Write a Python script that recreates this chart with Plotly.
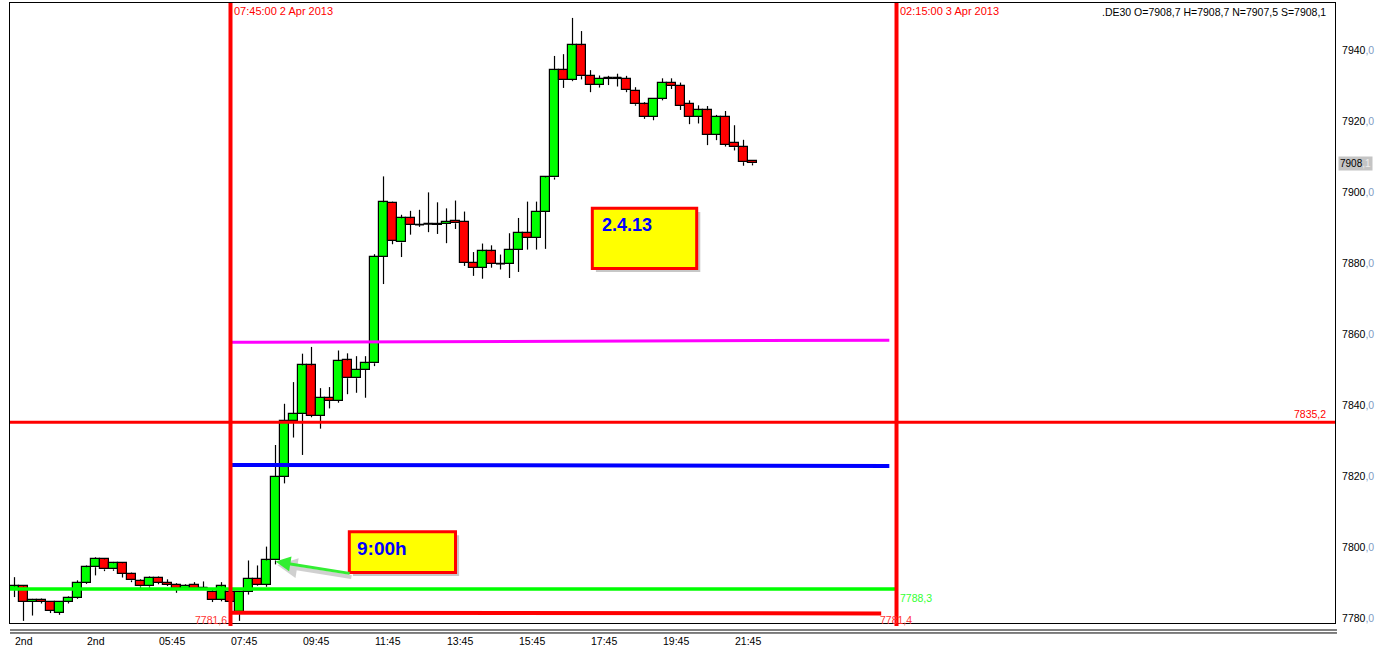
import plotly.graph_objects as go

# ---------------- data ----------------
opens = [7788.0, 7789.0, 7784.6, 7785.2, 7784.6, 7781.6, 7784.6, 7785.8, 7790.0, 7794.4,
         7796.6, 7793.8, 7795.5, 7792.5, 7790.5, 7789.0, 7791.4, 7790.0, 7789.5, 7788.4,
         7789.5, 7788.5, 7787.4, 7785.2, 7787.4, 7781.8, 7787.4, 7791.1, 7789.5, 7796.3,
         7819.9, 7835.6, 7837.5, 7851.2, 7837.0, 7842.1, 7841.3, 7852.6, 7847.6, 7849.9,
         7851.8, 7881.8, 7897.0, 7885.8, 7892.6, 7890.8, 7891.0, 7890.8, 7891.1, 7891.9,
         7891.6, 7880.1, 7878.7, 7883.3, 7879.8, 7879.8, 7883.8, 7888.4, 7887.1, 7894.4,
         7904.1, 7934.3, 7931.5, 7941.3, 7932.6, 7930.1, 7932.0, 7932.0, 7931.8, 7928.4,
         7924.7, 7921.2, 7926.3, 7930.8, 7929.9, 7924.9, 7921.1, 7923.0, 7916.1, 7921.1,
         7913.8, 7912.6, 7908.7]
highs = [7791.6, 7789.3, 7785.5, 7785.6, 7784.9, 7784.8, 7786.2, 7790.7, 7794.9, 7797.2,
         7797.0, 7795.9, 7795.8, 7792.9, 7791.0, 7791.8, 7791.8, 7791.0, 7789.9, 7789.6,
         7790.2, 7790.4, 7788.2, 7790.2, 7788.0, 7787.6, 7796.3, 7794.9, 7800.2, 7828.8,
         7840.4, 7846.5, 7854.5, 7856.4, 7844.8, 7845.1, 7855.4, 7854.6, 7853.8, 7853.8,
         7882.5, 7904.4, 7897.3, 7893.6, 7894.7, 7895.0, 7899.9, 7897.1, 7895.4, 7897.6,
         7894.5, 7883.1, 7885.5, 7885.0, 7882.4, 7888.4, 7892.7, 7897.3, 7897.3, 7904.5,
         7938.3, 7938.8, 7949.0, 7945.3, 7934.3, 7932.8, 7932.7, 7933.3, 7932.7, 7929.5,
         7925.3, 7926.3, 7932.0, 7932.0, 7930.8, 7925.8, 7924.4, 7924.2, 7921.7, 7922.8,
         7918.8, 7914.7, 7908.7]
lows = [7786.0, 7779.3, 7780.8, 7784.2, 7781.5, 7781.0, 7784.2, 7785.5, 7789.7, 7792.1,
        7793.3, 7793.4, 7791.5, 7790.2, 7788.6, 7788.6, 7789.6, 7789.1, 7787.2, 7788.0,
        7788.0, 7788.0, 7784.6, 7784.8, 7783.8, 7779.3, 7786.7, 7789.2, 7788.9, 7795.2,
        7818.0, 7830.9, 7826.0, 7836.6, 7833.4, 7839.1, 7840.7, 7843.1, 7843.5, 7842.1,
        7851.0, 7874.1, 7885.3, 7881.7, 7888.0, 7890.2, 7888.7, 7888.2, 7885.6, 7889.6,
        7879.2, 7876.4, 7875.6, 7878.7, 7878.2, 7875.8, 7877.5, 7883.8, 7883.8, 7884.0,
        7903.5, 7929.3, 7931.2, 7931.7, 7928.1, 7929.4, 7930.1, 7929.7, 7928.1, 7924.3,
        7920.6, 7920.2, 7925.8, 7929.0, 7923.1, 7919.1, 7919.3, 7913.2, 7914.6, 7912.8,
        7911.7, 7907.4, 7907.5]
closes = [7789.0, 7784.6, 7785.2, 7784.6, 7782.1, 7784.6, 7785.8, 7790.0, 7794.4, 7796.8,
          7793.8, 7795.5, 7792.5, 7790.7, 7789.0, 7791.4, 7790.0, 7789.5, 7788.4, 7789.2,
          7788.4, 7788.5, 7785.2, 7789.0, 7784.6, 7787.4, 7791.1, 7789.5, 7796.3, 7819.9,
          7835.6, 7837.5, 7851.2, 7837.0, 7842.1, 7841.3, 7852.4, 7847.6, 7849.9, 7851.8,
          7881.8, 7897.1, 7886.3, 7892.6, 7890.8, 7890.8, 7891.0, 7891.1, 7891.6, 7891.2,
          7880.1, 7878.7, 7883.3, 7879.8, 7879.8, 7883.8, 7888.6, 7887.1, 7894.4, 7904.1,
          7934.3, 7931.5, 7941.3, 7932.6, 7930.1, 7931.8, 7932.0, 7932.0, 7928.7, 7924.7,
          7921.1, 7926.3, 7930.8, 7929.9, 7924.3, 7921.1, 7923.0, 7916.1, 7921.1, 7913.3,
          7912.6, 7908.4, 7908.1]
bar_index = list(range(len(opens)))

x_tick_index = [0, 8, 16, 24, 32, 40, 48, 56, 64, 72, 80]
x_tick_labels = ["2nd", "2nd", "05:45", "07:45", "09:45", "11:45", "13:45",
                 "15:45", "17:45", "19:45", "21:45"]
y_tick_values = [7780, 7800, 7820, 7840, 7860, 7880, 7900, 7920, 7940]

start_bar = 24          # 07:45:00 2 Apr 2013
end_bar = 98            # 02:15:00 3 Apr 2013
level_red = 7835.2
level_green = 7788.3
level_low_left, level_low_right = 7781.6, 7781.4
level_magenta = (7857.7, 7858.3)
level_blue = (7823.2, 7822.9)
last_price = 7908.1

FONT = "Arial, Liberation Sans, sans-serif"

# derived candle geometry (from the OHLC lists)
body_lo = [min(o, c) for o, c in zip(opens, closes)]
body_hi = [max(o, c) for o, c in zip(opens, closes)]
body_h = [hi - lo for lo, hi in zip(body_lo, body_hi)]
body_col = ["#00ff00" if c > o else "#ff0000" for o, c in zip(opens, closes)]

wx, wy = [], []
for i in bar_index:
    wx += [i, i, None, i, i, None]
    wy += [body_hi[i], highs[i], None, lows[i], body_lo[i], None]

dx, dy = [], []
for i in bar_index:
    if body_h[i] == 0:
        dx += [i - 0.5, i + 0.5, None]
        dy += [opens[i], opens[i], None]

fig = go.Figure()
fig.add_trace(go.Bar(x=bar_index, y=body_h, base=body_lo, width=1,
                     marker=dict(color=body_col, line=dict(color="black", width=1.2)),
                     hoverinfo="skip", showlegend=False))
fig.add_trace(go.Scatter(x=wx, y=wy, mode="lines", line=dict(color="black", width=1.2),
                         hoverinfo="skip", showlegend=False))
fig.add_trace(go.Scatter(x=dx, y=dy, mode="lines", line=dict(color="black", width=1.5),
                         hoverinfo="skip", showlegend=False))

shapes = []
shapes.append(dict(type="line", xref="paper", x0=0, x1=1, y0=level_red, y1=level_red,
                   line=dict(color="#ff0000", width=3)))
shapes.append(dict(type="line", x0=start_bar, x1=97.2, y0=level_magenta[0], y1=level_magenta[1],
                   line=dict(color="#ff00ff", width=3)))
shapes.append(dict(type="line", x0=start_bar, x1=97.2, y0=level_blue[0], y1=level_blue[1],
                   line=dict(color="#0000ff", width=4)))
shapes.append(dict(type="line", x0=-0.8, x1=end_bar, y0=level_green, y1=level_green,
                   line=dict(color="#00ff00", width=3.5)))
shapes.append(dict(type="line", x0=start_bar, x1=96.3, y0=level_low_left, y1=level_low_right,
                   line=dict(color="#ff0000", width=4)))
for b in (start_bar, end_bar):
    shapes.append(dict(type="line", x0=b, x1=b, yref="paper", y0=-0.005, y1=1.0,
                       line=dict(color="#ff0000", width=4)))
for (x0, x1, y0, y1) in [(64.2, 75.8, 7878.5, 7895.4), (37.2, 49.0, 7792.9, 7804.4)]:
    shapes.append(dict(type="rect", x0=x0 + 0.4, x1=x1 + 0.4, y0=y0 - 1.0, y1=y1 - 1.0,
                       fillcolor="rgba(0,0,0,0.22)", line=dict(width=0)))
    shapes.append(dict(type="rect", x0=x0, x1=x1, y0=y0, y1=y1,
                       fillcolor="#ffff00", line=dict(color="#ff0000", width=3)))
for yy in (-0.0113, -0.0161):
    shapes.append(dict(type="line", xref="paper", yref="paper", x0=0, x1=1.0015, y0=yy, y1=yy,
                       line=dict(color="black", width=1)))

ann = []
ann.append(dict(x=start_bar, y=1, yref="paper", xanchor="left", yanchor="top", xshift=1, yshift=0,
                text="07:45:00 2 Apr 2013", showarrow=False, font=dict(color="#ff0000", size=11, family=FONT)))
ann.append(dict(x=end_bar, y=1, yref="paper", xanchor="left", yanchor="top", xshift=1, yshift=0,
                text="02:15:00 3 Apr 2013", showarrow=False, font=dict(color="#ff0000", size=11, family=FONT)))
ann.append(dict(x=0.9945, xref="paper", y=1, yref="paper", xanchor="right", yanchor="top", yshift=-1,
                text=".DE30 O=7908,7 H=7908,7 N=7907,5 S=7908,1", showarrow=False,
                font=dict(color="black", size=10.5, family=FONT)))
ann.append(dict(x=0.9945, xref="paper", y=level_red, xanchor="right", yanchor="bottom", yshift=0,
                text="7835,2", showarrow=False, font=dict(color="#ff0000", size=10.5, family=FONT)))
ann.append(dict(x=end_bar, y=level_green, xanchor="left", yanchor="top", xshift=1, yshift=-1,
                text="7788,3", showarrow=False, font=dict(color="#33ff33", size=10.5, family=FONT)))
ann.append(dict(x=start_bar, y=level_low_left, xanchor="right", yanchor="top", xshift=-2, yshift=1,
                text="7781,6", showarrow=False, font=dict(color="#ff3333", size=10.5, family=FONT)))
ann.append(dict(x=96.3, y=level_low_right, xanchor="left", yanchor="top", xshift=-3, yshift=1,
                text="7781,4", showarrow=False, font=dict(color="#ff3333", size=10.5, family=FONT)))
ann.append(dict(x=65.0, y=7890.6, xanchor="left", yanchor="middle",
                text="<b>2.4.13</b>", showarrow=False, font=dict(color="#0000ff", size=18, family=FONT)))
ann.append(dict(x=37.8, y=7799.6, xanchor="left", yanchor="middle",
                text="<b>9:00h</b>", showarrow=False, font=dict(color="#0000ff", size=19, family=FONT)))
ann.append(dict(x=29.2, y=7795.0, ax=37.6, ay=7791.6, axref="x", ayref="y", text="",
                showarrow=True, arrowhead=2, arrowsize=1, arrowwidth=4, arrowcolor="rgba(0,0,0,0.18)"))
ann.append(dict(x=29.0, y=7796.0, ax=37.4, ay=7792.6, axref="x", ayref="y", text="",
                showarrow=True, arrowhead=2, arrowsize=1, arrowwidth=3, arrowcolor="#33ee33"))
ann.append(dict(x=1, xref="paper", y=last_price, xanchor="left", yanchor="middle", xshift=3,
                text="7908<span style='color:#eeeeee'>,1</span>", showarrow=False, bgcolor="#c4c4c4",
                borderpad=1, font=dict(color="black", size=10, family=FONT)))

y_tick_text = [f"{v}<span style='color:#7f9cc4'>,0</span>" for v in y_tick_values]

fig.update_layout(
    width=1377, height=649,
    margin=dict(l=10, r=42, t=2, b=25),
    paper_bgcolor="white", plot_bgcolor="white",
    bargap=0,
    shapes=shapes, annotations=ann,
    showlegend=False,
    font=dict(family=FONT, size=10, color="black"),
    xaxis=dict(range=[-0.5, 146.72],
               tickmode="array", tickvals=x_tick_index, ticktext=x_tick_labels,
               ticklabelposition="outside right", ticks="", showgrid=False, zeroline=False,
               showline=True, linecolor="black", linewidth=1, mirror=True,
               ticklabelstandoff=8,
               tickfont=dict(size=10.5, family=FONT, color="black")),
    yaxis=dict(range=[7778.7, 7953.2], side="right", tickmode="array", tickvals=y_tick_values,
               ticktext=y_tick_text, ticks="", showgrid=False, zeroline=False,
               showline=True, linecolor="black", linewidth=1, mirror=True,
               ticklabelstandoff=4,
               tickfont=dict(size=10.5, family=FONT, color="black")),
)

fig.write_html("out.html", config={"displayModeBar": False},
               post_script="document.body.style.margin='0px';document.body.style.overflow='hidden';")
